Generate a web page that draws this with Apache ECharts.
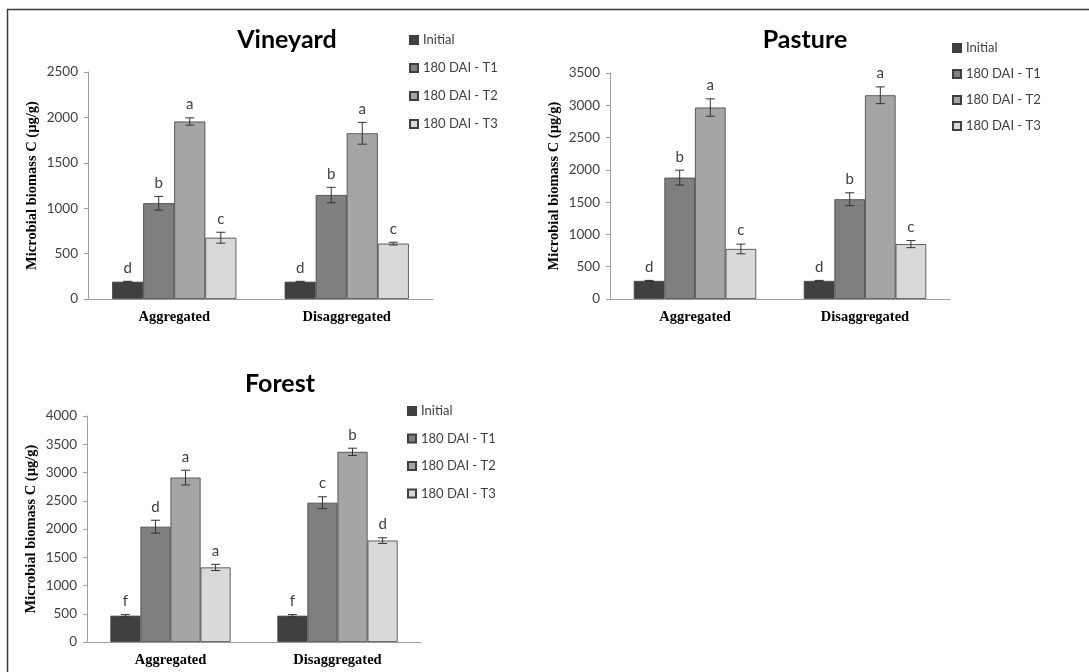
<!DOCTYPE html>
<html>
<head>
<meta charset="utf-8">
<script src="https://cdn.jsdelivr.net/npm/echarts@6/dist/echarts.min.js"></script>
<style>
html,body{margin:0;padding:0;background:#fff;}
#main{width:1089px;height:672px;}
</style>
</head>
<body>
<div id="main"></div>
<script>
const categories = ['Aggregated', 'Disaggregated'];
const seriesNames = ['Initial', '180 DAI - T1', '180 DAI - T2', '180 DAI - T3'];
const panelTitles = ['Vineyard', 'Pasture', 'Forest'];
const yAxisName = 'Microbial biomass C (µg/g)';

// values per series: [Aggregated, Disaggregated]
const vineyardMeans = [[190, 190], [1055, 1145], [1955, 1825], [675, 610]];
const vineyardErr = [[5, 5], [75, 85], [40, 120], [60, 15]];
const vineyardLetters = [['d', 'd'], ['b', 'b'], ['a', 'a'], ['c', 'c']];

const pastureMeans = [[280, 280], [1880, 1545], [2965, 3155], [775, 850]];
const pastureErr = [[8, 8], [115, 100], [135, 130], [75, 55]];
const pastureLetters = [['d', 'd'], ['b', 'b'], ['a', 'a'], ['c', 'c']];

const forestMeans = [[465, 465], [2040, 2465], [2910, 3365], [1320, 1795]];
const forestErr = [[20, 20], [115, 105], [130, 65], [55, 50]];
const forestLetters = [['f', 'f'], ['d', 'c'], ['a', 'b'], ['a', 'd']];

const yMax = [2500, 3500, 4000];
const yTicks = [500, 500, 500];

const panels = [
  {means: vineyardMeans, err: vineyardErr, letters: vineyardLetters},
  {means: pastureMeans, err: pastureErr, letters: pastureLetters},
  {means: forestMeans, err: forestErr, letters: forestLetters}
];

const colors = ['#404040', '#7f7f7f', '#a5a5a5', '#d9d9d9'];
const gridPos = [
  {left: 88, top: 72, width: 345, height: 227},
  {left: 610, top: 73, width: 340, height: 226},
  {left: 87, top: 416, width: 334, height: 226}
];
const titlePos = [[282, 22], [800, 22], [275, 366]];
const legendPos = [[409, 33, 14], [952, 41, 12], [407, 404, 13.5]];
const yNameGap = [48, 48, 48];

const BAR_FRAC = 0.18;
const SANS = 'Lato, "Open Sans", sans-serif';
const SERIF = '"Liberation Serif", "Times New Roman", serif';

const option = {
  animation: false,
  backgroundColor: '#fff',
  title: panelTitles.map((t, i) => ({
    text: t, left: titlePos[i][0], top: titlePos[i][1], textAlign: 'center',
    textStyle: {fontFamily: SANS, fontWeight: 'bold', fontSize: 25, color: '#000'}
  })),
  legend: legendPos.map((p, i) => ({
    data: seriesNames, orient: 'vertical', left: p[0], top: p[1], itemGap: p[2],
    padding: 0, icon: 'rect', itemWidth: 8, itemHeight: 8,
    textStyle: {fontFamily: SANS, fontSize: 13, color: '#404040', lineHeight: 14}
  })),
  grid: gridPos,
  xAxis: gridPos.map((g, i) => ({
    type: 'category', gridIndex: i, data: categories,
    axisLine: {lineStyle: {color: '#a0a0a0', width: 1}},
    axisTick: {show: false},
    axisLabel: {fontFamily: SERIF, fontWeight: 'bold', fontSize: 14.5, color: '#000', margin: 11}
  })),
  yAxis: gridPos.map((g, i) => ({
    type: 'value', gridIndex: i, min: 0, max: yMax[i], interval: yTicks[i],
    name: yAxisName, nameLocation: 'middle', nameGap: yNameGap[i], nameRotate: 90,
    nameTextStyle: {fontFamily: SERIF, fontWeight: 'bold', fontSize: 14.5, color: '#000'},
    axisLine: {show: true, lineStyle: {color: '#a0a0a0', width: 1}},
    axisTick: {show: true, length: 4, lineStyle: {color: '#a0a0a0'}},
    splitLine: {show: false},
    axisLabel: {fontFamily: SANS, fontSize: 13.5, color: '#404040', margin: 10,
      formatter: function (v) { return String(v); }}
  })),
  graphic: [{
    type: 'polyline', silent: true,
    shape: {points: [[7.5, 672], [7.5, 9.5], [1089, 9.5]]},
    style: {stroke: '#3a3a3a', lineWidth: 1.5, fill: null}
  }],
  series: []
};

panels.forEach((p, gi) => {
  seriesNames.forEach((name, k) => {
    option.series.push({
      type: 'bar', name: name, xAxisIndex: gi, yAxisIndex: gi,
      data: p.means[k], barGap: 0, barCategoryGap: '28%',
      itemStyle: {color: colors[k], borderColor: '#3f3f3f', borderWidth: 0.8}
    });
  });
  seriesNames.forEach((name, k) => {
    option.series.push({
      type: 'custom', xAxisIndex: gi, yAxisIndex: gi, z: 5,
      data: p.means[k].map((v, ci) => [ci, v, p.err[k][ci]]),
      renderItem: function (params, api) {
        const ci = api.value(0), v = api.value(1), e = api.value(2);
        const band = api.size([1, 0])[0];
        const bw = band * BAR_FRAC;
        const x = api.coord([ci, v])[0] + (k - 1.5) * bw;
        const yh = api.coord([ci, v + e])[1];
        const yl = api.coord([ci, v - e])[1];
        const cap = 4.5;
        const st = {stroke: '#333', lineWidth: 1};
        return {
          type: 'group',
          children: [
            {type: 'line', shape: {x1: x, y1: yh, x2: x, y2: yl}, style: st},
            {type: 'line', shape: {x1: x - cap, y1: yh, x2: x + cap, y2: yh}, style: st},
            {type: 'line', shape: {x1: x - cap, y1: yl, x2: x + cap, y2: yl}, style: st},
            {type: 'text', style: {
              text: p.letters[k][params.dataIndex], x: x, y: yh - 6,
              textAlign: 'center', textVerticalAlign: 'bottom',
              fontFamily: SANS, fontSize: 15, fill: '#404040'
            }}
          ]
        };
      }
    });
  });
});

const chart = echarts.init(document.getElementById('main'), null, {renderer: 'canvas'});
chart.setOption(option);
</script>
</body>
</html>
